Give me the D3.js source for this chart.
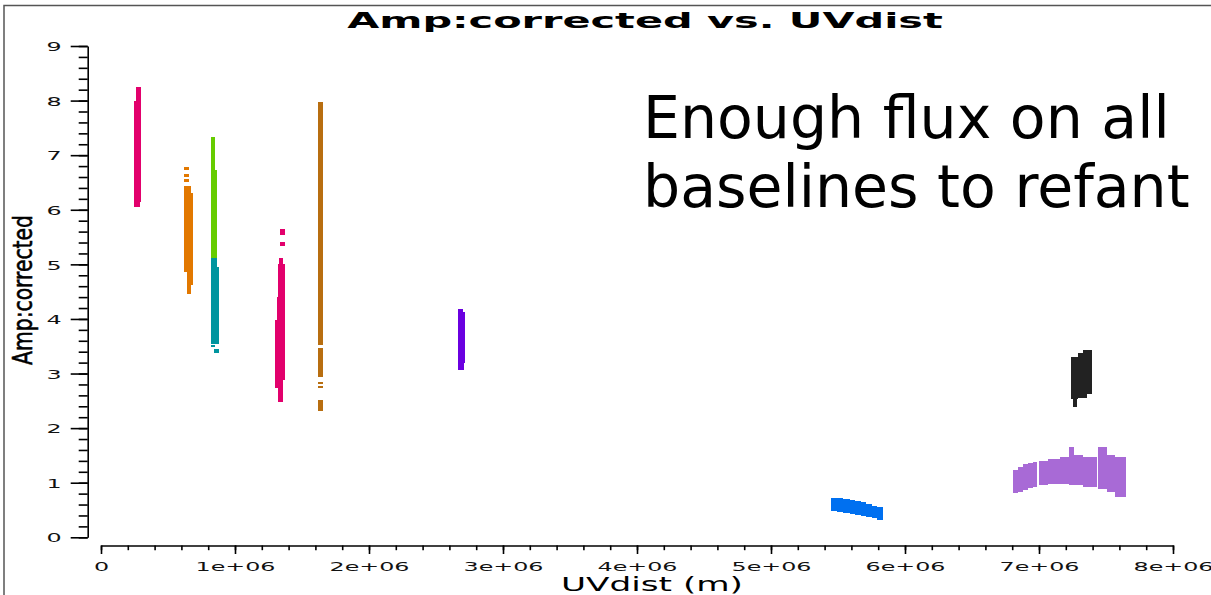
<!DOCTYPE html>
<html>
<head>
<meta charset="utf-8">
<script src="https://cdnjs.cloudflare.com/ajax/libs/d3/7.8.5/d3.min.js"></script>
<style>
  body { margin: 0; background: #fff; }
  svg { display: block; }
  text { font-family: "DejaVu Sans", Verdana, sans-serif; }
</style>
</head>
<body>
<svg id="chart" width="1211" height="595"></svg>
<script>

// every block is one run of plotted points: [uvFrom, uvTo, ampLow, ampHigh], uv in metres
var pink1 = [[0.261e6, 0.296e6, 8.0, 8.24], [0.249e6, 0.296e6, 6.15, 8.0], [0.249e6, 0.290e6, 6.05, 6.15]];
var orange = [[0.622e6, 0.655e6, 6.73, 6.79], [0.622e6, 0.655e6, 6.60, 6.65], [0.622e6, 0.655e6, 6.51, 6.56],
  [0.622e6, 0.669e6, 4.86, 6.43], [0.669e6, 0.684e6, 4.62, 6.30], [0.639e6, 0.669e6, 4.46, 4.86]];
var green = [[0.821e6, 0.849e6, 6.73, 7.33], [0.821e6, 0.863e6, 5.11, 6.73]];
var teal = [[0.821e6, 0.863e6, 4.96, 5.12], [0.821e6, 0.878e6, 3.55, 4.96], [0.821e6, 0.851e6, 3.49, 3.53],
  [0.846e6, 0.878e6, 3.37, 3.45]];
var pink2 = [[1.338e6, 1.373e6, 5.54, 5.64], [1.338e6, 1.373e6, 5.33, 5.41], [1.330e6, 1.361e6, 5.0, 5.12],
  [1.323e6, 1.373e6, 4.40, 5.0], [1.310e6, 1.373e6, 3.98, 4.40], [1.300e6, 1.373e6, 2.88, 3.98],
  [1.300e6, 1.361e6, 2.73, 2.88], [1.323e6, 1.355e6, 2.48, 2.73]];
var brown = [[1.622e6, 1.654e6, 3.52, 7.98], [1.622e6, 1.654e6, 2.94, 3.47], [1.622e6, 1.654e6, 2.81, 2.85],
  [1.622e6, 1.654e6, 2.73, 2.77], [1.622e6, 1.654e6, 2.31, 2.51]];
var violet = [[2.666e6, 2.700e6, 4.12, 4.18], [2.666e6, 2.716e6, 3.20, 4.12], [2.666e6, 2.710e6, 3.06, 3.20]];
var blue = [[5.448e6, 5.490e6, 0.48, 0.725], [5.490e6, 5.540e6, 0.47, 0.72], [5.540e6, 5.590e6, 0.45, 0.70],
  [5.590e6, 5.630e6, 0.43, 0.685], [5.630e6, 5.670e6, 0.41, 0.665], [5.670e6, 5.710e6, 0.39, 0.64],
  [5.710e6, 5.750e6, 0.37, 0.61], [5.750e6, 5.790e6, 0.35, 0.58], [5.790e6, 5.836e6, 0.32, 0.555]];
var black = [[7.239e6, 7.293e6, 2.53, 3.31], [7.256e6, 7.286e6, 2.38, 2.53], [7.293e6, 7.331e6, 2.56, 3.37],
  [7.331e6, 7.356e6, 2.56, 3.43], [7.356e6, 7.393e6, 2.62, 3.43]];
var lavender = [[6.808e6, 6.846e6, 0.806, 1.233], [6.846e6, 6.878e6, 0.835, 1.293], [6.878e6, 6.920e6, 0.866, 1.342],
  [6.920e6, 6.958e6, 0.897, 1.366], [6.958e6, 6.988e6, 0.927, 1.385], [7.002e6, 7.070e6, 0.958, 1.403],
  [7.070e6, 7.157e6, 0.976, 1.428], [7.157e6, 7.226e6, 0.976, 1.476], [7.226e6, 7.261e6, 0.958, 1.648],
  [7.261e6, 7.331e6, 0.958, 1.507], [7.331e6, 7.430e6, 0.927, 1.465], [7.438e6, 7.505e6, 0.879, 1.648],
  [7.505e6, 7.567e6, 0.835, 1.507], [7.567e6, 7.647e6, 0.744, 1.476]];

var baselines = [pink1, orange, green, teal, pink2, brown, violet, blue, black, lavender];
var colors = ["#e2006c", "#e27800", "#66cc00", "#00959f", "#e2006c", "#b86e10", "#6a00e0", "#0070f0", "#222222", "#a86ad6"];

var xTicks = [0, 1e6, 2e6, 3e6, 4e6, 5e6, 6e6, 7e6, 8e6];
var yTicks = [0, 1, 2, 3, 4, 5, 6, 7, 8, 9];

var titleText = "Amp:corrected vs. UVdist";
var xLabelText = "UVdist (m)";
var yLabelText = "Amp:corrected";
var noteLines = ["Enough flux on all", "baselines to refant"];

var svg = d3.select("#chart");
var stretch = 1.83; // the picture is stretched sideways, so is its axis text

var x = d3.scaleLinear().domain([0, 8e6]).range([101, 1173]);
var y = d3.scaleLinear().domain([0, 9]).range([537.3, 46]);

// frame
svg.append("path")
  .attr("d", "M4,600V5.5H1211")
  .attr("fill", "none")
  .attr("stroke", "#555")
  .attr("stroke-width", 1.5);

// points
baselines.forEach(function(blocks, i) {
  svg.append("g")
    .attr("fill", colors[i])
    .attr("shape-rendering", "crispEdges")
    .selectAll("rect")
    .data(blocks)
    .enter()
    .append("rect")
    .attr("x", d => x(d[0]))
    .attr("width", d => x(d[1]) - x(d[0]))
    .attr("y", d => y(d[3]))
    .attr("height", d => y(d[2]) - y(d[3]));
});

// y axis
var yMinor = d3.range(0, 9.01, 0.2);
svg.append("g")
  .attr("transform", "translate(87.7,0)")
  .call(d3.axisLeft(y).tickValues(yMinor).tickSize(9).tickFormat(""))
  .call(g => g.select(".domain").remove());

var yAxis = svg.append("g")
  .attr("transform", "translate(87.7,0)")
  .call(d3.axisLeft(y).tickValues(yTicks).tickSize(17).tickSizeOuter(0).tickFormat(d3.format("d")));

yAxis.selectAll("text")
  .attr("text-anchor", "middle")
  .attr("x", (54 - 87.7) / stretch)
  .attr("dy", "0.36em")
  .attr("transform", `scale(${stretch},1)`);

// x axis
var xMinor = d3.range(0, 8.01e6, 0.2e6);
svg.append("g")
  .attr("transform", "translate(0,545.5)")
  .call(d3.axisBottom(x).tickValues(xMinor).tickSize(4.7).tickFormat(""))
  .call(g => g.select(".domain").remove());

var xAxis = svg.append("g")
  .attr("transform", "translate(0,545.5)")
  .call(d3.axisBottom(x).tickValues(xTicks).tickSize(8.5).tickSizeOuter(0)
    .tickFormat(d => d === 0 ? "0" : (d / 1e6) + "e+06"));

xAxis.selectAll("text")
  .attr("y", 25.5)
  .attr("dy", null)
  .attr("transform", `scale(${stretch},1)`);

svg.selectAll(".tick line, .domain")
  .attr("stroke", "#000")
  .attr("stroke-width", 1.6);

svg.selectAll(".tick text")
  .attr("font-family", "DejaVu Sans")
  .attr("font-size", 13)
  .attr("fill", "#111");

svg.selectAll("g").filter(function() { return this.hasAttribute("font-family"); })
  .attr("font-family", "DejaVu Sans");

// fit a text to a width by stretching it sideways
function fitWidth(t, cx, baseY, w) {
  var len = t.node().getComputedTextLength();
  t.attr("transform", `translate(${cx},${baseY}) scale(${w / len},1)`);
}

var title = svg.append("text")
  .attr("text-anchor", "middle")
  .attr("font-weight", "bold")
  .attr("font-size", 21)
  .attr("fill", "#000")
  .text(titleText);
fitWidth(title, 645, 28.3, 596);

var xLabel = svg.append("text")
  .attr("text-anchor", "middle")
  .attr("font-size", 20)
  .attr("fill", "#000")
  .text(xLabelText);
fitWidth(xLabel, 652, 591, 182);

var yLabel = svg.append("text")
  .attr("text-anchor", "middle")
  .attr("font-size", 20)
  .attr("fill", "#000")
  .attr("stroke", "#000")
  .attr("stroke-width", 0.45)
  .text(yLabelText);
var yLen = yLabel.node().getComputedTextLength();
var yFont = 20 * 150 / yLen;
yLabel.attr("font-size", yFont)
  .attr("transform", `translate(32,290) scale(${19 / (0.73 * yFont)},1) rotate(-90)`);

// note written over the plot
svg.append("g")
  .selectAll("text")
  .data(noteLines)
  .enter()
  .append("text")
  .attr("x", 643)
  .attr("y", (d, i) => 138 + i * 69)
  .attr("font-size", 58.5)
  .attr("fill", "#000")
  .text(d => d);

</script>
</body>
</html>
